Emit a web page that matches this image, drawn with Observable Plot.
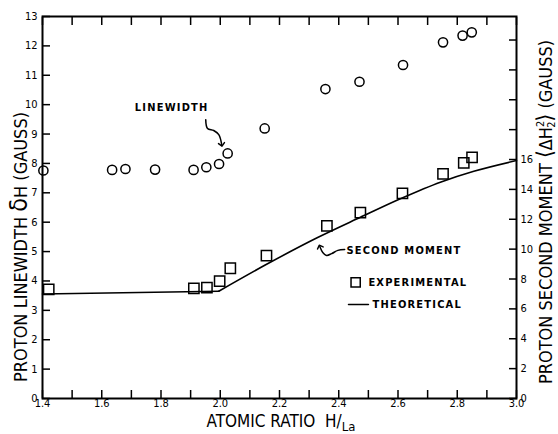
<!DOCTYPE html>
<html>
<head>
<meta charset="utf-8">
<script src="https://cdn.jsdelivr.net/npm/d3@7"></script>
<script src="https://cdn.jsdelivr.net/npm/@observablehq/plot@0.6"></script>
<style>
  html, body { margin: 0; padding: 0; background: #fff; }
  #chart svg { display: block; }
  g[aria-label="text"] text { letter-spacing: 1.2px; }
</style>
</head>
<body>
<div id="chart"></div>
<script>
// Proton linewidth (gauss) against atomic ratio H/La — circles, left axis
const linewidthRatio = [1.403, 1.635, 1.68, 1.78, 1.91, 1.953, 1.996, 2.025, 2.15, 2.355, 2.47, 2.617, 2.752, 2.818, 2.849];
const linewidthGauss = [7.76, 7.78, 7.81, 7.79, 7.78, 7.87, 7.98, 8.34, 9.19, 10.53, 10.78, 11.35, 12.12, 12.35, 12.46];

// Experimental proton second moment (gauss^2) — squares, right axis
const momentRatio = [1.421, 1.911, 1.955, 1.998, 2.034, 2.156, 2.36, 2.473, 2.615, 2.752, 2.822, 2.85];
const momentGauss2 = [7.30, 7.38, 7.42, 7.86, 8.72, 9.57, 11.55, 12.44, 13.74, 15.04, 15.78, 16.15];

// Theoretical second moment (gauss^2) — flat up to H/La = 2, then rising
const theoryRatio = [1.4, 1.995, 2.158, 2.327, 2.473, 2.608, 2.743, 2.856, 3.0];
const theoryGauss2 = [7.0, 7.18, 9.0, 10.76, 12.13, 13.37, 14.48, 15.21, 15.93];

// Axis ticks
const xTickLabels = [1.4, 1.6, 1.8, 2.0, 2.2, 2.4, 2.6, 2.8, 3.0];
const xTickMarks = [1.4, 1.5, 1.6, 1.7, 1.8, 1.9, 2.0, 2.1, 2.2, 2.3, 2.4, 2.5, 2.6, 2.7, 2.8, 2.9, 3.0];
const leftTicks = [0, 1, 2, 3, 4, 5, 6, 7, 8, 9, 10, 11, 12, 13];
const rightTickLabels = [0, 2, 4, 6, 8, 10, 12, 14, 16];
const rightTickMarks = [0, 2, 4, 6, 8, 10, 12, 14, 16, 18, 20, 22, 24];

// The right axis (gauss^2) shares the plot's y scale: 16 gauss^2 sits at 8.133 gauss
const MOMENT_TO_LEFT = 8.133 / 16;

const FONT = '"DejaVu Sans Condensed", "DejaVu Sans", sans-serif';

const linewidth = linewidthRatio.map((x, i) => ({x, y: linewidthGauss[i]}));
const moment = momentRatio.map((x, i) => ({x, y: momentGauss2[i] * MOMENT_TO_LEFT}));
const theory = theoryRatio.map((x, i) => ({x, y: theoryGauss2[i] * MOMENT_TO_LEFT}));
const theoryFlat = theory.slice(0, 2);   // straight plateau
const theoryRise = theory.slice(1);      // smooth rising branch

// Annotation positions (in plot coordinates)
const centeredNotes = [{x: 1.836, y: 9.90, text: "LINEWIDTH"}];
const leftAlignedNotes = [
  {x: 2.426, y: 5.04, text: "SECOND MOMENT"},
  {x: 2.500, y: 3.95, text: "EXPERIMENTAL"},
  {x: 2.514, y: 3.20, text: "THEORETICAL"}
];
const linewidthPointer = [
  {x: 1.951, y: 9.49}, {x: 1.957, y: 9.19}, {x: 1.978, y: 9.12}, {x: 1.995, y: 8.98}, {x: 2.005, y: 8.64}
];
const momentPointer = [
  {x: 2.420, y: 5.07}, {x: 2.397, y: 5.04}, {x: 2.376, y: 4.93}, {x: 2.359, y: 4.87}, {x: 2.346, y: 4.97}, {x: 2.336, y: 5.17}
];
const legendSquare = [{x: 2.457, y: 3.95}];
const legendLine = [{x: 2.433, y: 3.20}, {x: 2.500, y: 3.20}];

const chart = Plot.plot({
  width: 558,
  height: 434,
  marginLeft: 42,
  marginRight: 42,
  marginTop: 16,
  marginBottom: 36,
  x: {domain: [1.4, 3.0]},
  y: {domain: [0, 13]},
  style: {fontFamily: FONT, fontSize: "11px", color: "#000", background: "#fff"},
  marks: [
    Plot.axisX(xTickMarks, {anchor: "bottom", tickSize: -8, tickFormat: () => "", label: null, strokeWidth: 1.5}),
    Plot.axisX(xTickMarks, {anchor: "top", tickSize: -8, tickFormat: () => "", label: null, strokeWidth: 1.5}),
    Plot.axisX(xTickLabels, {anchor: "bottom", tickSize: 0, tickPadding: 1, tickFormat: d => d.toFixed(1), label: null}),
    Plot.axisY(leftTicks, {anchor: "left", tickSize: -8, tickFormat: () => "", label: null, strokeWidth: 1.5}),
    Plot.axisY(leftTicks, {anchor: "left", tickSize: 0, tickPadding: 5, tickFormat: d => String(d), label: null}),
    Plot.axisY(rightTickMarks.map(v => v * MOMENT_TO_LEFT), {anchor: "right", tickSize: -8, tickFormat: () => "", label: null, strokeWidth: 1.5}),
    Plot.axisY(rightTickLabels.map(v => v * MOMENT_TO_LEFT), {anchor: "right", tickSize: 0, tickPadding: 4, tickFormat: d => String(Math.round(d / MOMENT_TO_LEFT)), label: null}),
    Plot.frame({strokeWidth: 2}),
    Plot.line(theoryFlat, {x: "x", y: "y", strokeWidth: 1.6}),
    Plot.line(theoryRise, {x: "x", y: "y", curve: "monotone-x", strokeWidth: 1.6}),
    Plot.dot(linewidth, {x: "x", y: "y", r: 4.6, stroke: "#000", strokeWidth: 1.5}),
    Plot.dot(moment, {x: "x", y: "y", symbol: "square", r: 5.8, stroke: "#000", strokeWidth: 1.5}),
    Plot.dot(legendSquare, {x: "x", y: "y", symbol: "square", r: 5.2, stroke: "#000", strokeWidth: 1.5}),
    Plot.line(legendLine, {x: "x", y: "y", strokeWidth: 1.6}),
    Plot.line(linewidthPointer, {x: "x", y: "y", curve: "catmull-rom", strokeWidth: 1.5, markerEnd: "arrow"}),
    Plot.line(momentPointer, {x: "x", y: "y", curve: "catmull-rom", strokeWidth: 1.5, markerEnd: "arrow"}),
    Plot.text(centeredNotes, {x: "x", y: "y", text: "text", textAnchor: "middle", fontSize: 11, fontWeight: "bold", fill: "#000"}),
    Plot.text(leftAlignedNotes, {x: "x", y: "y", text: "text", textAnchor: "start", fontSize: 11, fontWeight: "bold", fill: "#000"})
  ]
});

document.getElementById("chart").append(chart);

const svg = d3.select(chart);
const titles = svg.append("g").attr("font-family", FONT).attr("fill", "#000");

// Left axis title
const left = titles.append("text")
  .attr("transform", "translate(27,247) rotate(-90)")
  .attr("text-anchor", "middle")
  .attr("font-size", 18);
left.append("tspan").text("PROTON LINEWIDTH ");
left.append("tspan").attr("font-size", 25).text("δ");
left.append("tspan").text("H (GAUSS)");

// Right axis title
const right = titles.append("text")
  .attr("transform", "translate(552,212) rotate(-90)")
  .attr("text-anchor", "middle")
  .attr("font-size", 18);
right.append("tspan").text("PROTON SECOND MOMENT ");
right.append("tspan").attr("font-size", 22).text("⟨");
right.append("tspan").text("ΔH");
right.append("tspan").attr("font-size", 11).attr("dy", -8).text("2");
right.append("tspan").attr("font-size", 11).attr("dx", -7).attr("dy", 11).text("2");
right.append("tspan").attr("font-size", 22).attr("dy", -3).text("⟩");
right.append("tspan").text(" (GAUSS)");

// Bottom axis title
const bottom = titles.append("text")
  .attr("x", 281).attr("y", 427)
  .attr("text-anchor", "middle")
  .attr("font-size", 17);
bottom.append("tspan").text("ATOMIC RATIO  H/");
bottom.append("tspan").attr("font-size", 13).attr("dy", 4).text("La");
</script>
</body>
</html>
